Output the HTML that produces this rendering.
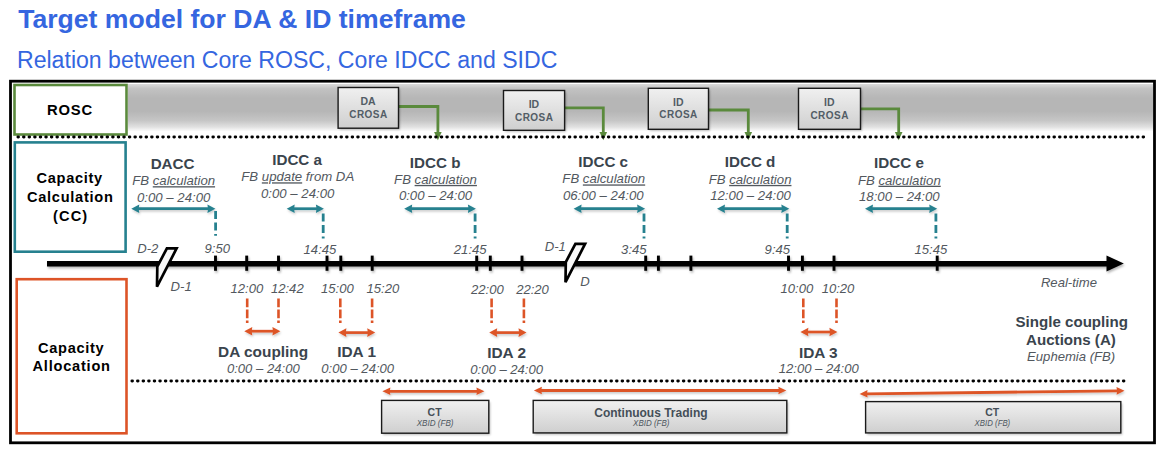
<!DOCTYPE html>
<html><head><meta charset="utf-8"><title>Target model for DA &amp; ID timeframe</title>
<style>
html,body{margin:0;padding:0;background:#fff;}
body{width:1165px;height:457px;overflow:hidden;}
svg{display:block;font-family:"Liberation Sans",sans-serif;}
</style></head>
<body>
<svg width="1165" height="457" viewBox="0 0 1165 457">
<defs>
<linearGradient id="band" x1="0" y1="0" x2="0" y2="1">
<stop offset="0" stop-color="#dadada"/><stop offset="0.1" stop-color="#c2c2c2"/><stop offset="0.3" stop-color="#b6b6b6"/><stop offset="0.58" stop-color="#b6b6b6"/>
<stop offset="0.78" stop-color="#c6c6c6"/><stop offset="0.92" stop-color="#e2e2e2"/><stop offset="1" stop-color="#fbfbfb"/>
</linearGradient>
<linearGradient id="boxg" x1="0" y1="0" x2="0" y2="1">
<stop offset="0" stop-color="#f0f0f0"/><stop offset="1" stop-color="#cfcfcf"/>
</linearGradient>
<filter id="sh" x="-5%" y="-50%" width="110%" height="200%"><feDropShadow dx="1" dy="1.8" stdDeviation="1.1" flood-color="#000" flood-opacity="0.3"/></filter>
<filter id="sh2" x="-5%" y="-100%" width="110%" height="300%"><feDropShadow dx="0.8" dy="1.6" stdDeviation="1" flood-color="#000" flood-opacity="0.22"/></filter>
<filter id="blur" x="-10%" y="-20%" width="120%" height="140%"><feGaussianBlur stdDeviation="1.2"/></filter>
</defs>
<text x="18.13" y="28.10" font-size="26.6" font-weight="700" font-style="normal" fill="#3566e0">Target model for DA &amp; ID timeframe</text>
<text x="16.97" y="67.50" font-size="23.1" font-weight="400" font-style="normal" fill="#3566e0">Relation between Core ROSC, Core IDCC and SIDC</text>
<rect x="10.5" y="81.2" width="1144" height="361.6" fill="#fff" stroke="#000" stroke-width="2.8"/>
<rect x="128" y="84" width="1025" height="47" fill="url(#band)"/>
<rect x="14.5" y="85" width="112" height="49.5" fill="#fff" stroke="#5a8a3c" stroke-width="2.6"/>
<rect x="14.8" y="142.4" width="110.8" height="109.3" fill="#fff" stroke="#26818f" stroke-width="2.6"/>
<rect x="16.7" y="279.2" width="109.8" height="154.1" fill="#fff" stroke="#dd5427" stroke-width="2.6"/>
<text x="47.04" y="114.80" font-size="14.8" font-weight="700" font-style="normal" fill="#000" letter-spacing="0.811">ROSC</text>
<text x="36.62" y="183.30" font-size="14.6" font-weight="700" font-style="normal" fill="#000" letter-spacing="0.678">Capacity</text>
<text x="26.97" y="202.20" font-size="14.6" font-weight="700" font-style="normal" fill="#000" letter-spacing="0.722">Calculation</text>
<text x="52.97" y="221.30" font-size="14.6" font-weight="700" font-style="normal" fill="#000" letter-spacing="1.151">(CC)</text>
<text x="38.12" y="352.60" font-size="14.6" font-weight="700" font-style="normal" fill="#000" letter-spacing="0.678">Capacity</text>
<text x="32.53" y="370.90" font-size="14.6" font-weight="700" font-style="normal" fill="#000" letter-spacing="0.772">Allocation</text>
<polyline points="398.5,106.5 437.9,106.5 437.9,133" fill="none" stroke="#5a8a3c" stroke-width="2.8"/>
<polygon points="434.09999999999997,132 441.7,132 437.9,140.2" fill="#5a8a3c"/>
<rect x="339.6" y="89.0" width="60.39999999999998" height="40.69999999999999" fill="#000" opacity="0.25" filter="url(#blur)"/>
<rect x="338.1" y="87.5" width="60.39999999999998" height="40.69999999999999" fill="url(#boxg)" stroke="#1a1a1a" stroke-width="1.4"/>
<text x="360.53" y="104.60" font-size="10.5" font-weight="700" font-style="normal" fill="#535d66">DA</text>
<text x="349.25" y="117.70" font-size="10.0" font-weight="700" font-style="normal" fill="#535d66" letter-spacing="0.462">CROSA</text>
<polyline points="564.6,107.9 603.3,107.9 603.3,133" fill="none" stroke="#5a8a3c" stroke-width="2.8"/>
<polygon points="599.5,132 607.0999999999999,132 603.3,140.2" fill="#5a8a3c"/>
<rect x="505.0" y="92.0" width="61.10000000000002" height="39.80000000000001" fill="#000" opacity="0.25" filter="url(#blur)"/>
<rect x="503.5" y="90.5" width="61.10000000000002" height="39.80000000000001" fill="url(#boxg)" stroke="#1a1a1a" stroke-width="1.4"/>
<text x="528.67" y="107.60" font-size="10.5" font-weight="700" font-style="normal" fill="#535d66">ID</text>
<text x="515.00" y="120.70" font-size="10.0" font-weight="700" font-style="normal" fill="#535d66" letter-spacing="0.462">CROSA</text>
<polyline points="708.5,110.0 748.3,110.0 748.3,133" fill="none" stroke="#5a8a3c" stroke-width="2.8"/>
<polygon points="744.5,132 752.0999999999999,132 748.3,140.2" fill="#5a8a3c"/>
<rect x="649.8" y="89.8" width="60.200000000000045" height="41.000000000000014" fill="#000" opacity="0.25" filter="url(#blur)"/>
<rect x="648.3" y="88.3" width="60.200000000000045" height="41.000000000000014" fill="url(#boxg)" stroke="#1a1a1a" stroke-width="1.4"/>
<text x="673.02" y="105.60" font-size="10.5" font-weight="700" font-style="normal" fill="#535d66">ID</text>
<text x="659.35" y="118.40" font-size="10.0" font-weight="700" font-style="normal" fill="#535d66" letter-spacing="0.462">CROSA</text>
<polyline points="860.5,108.9 898.7,108.9 898.7,133" fill="none" stroke="#5a8a3c" stroke-width="2.8"/>
<polygon points="894.9000000000001,132 902.5,132 898.7,140.2" fill="#5a8a3c"/>
<rect x="800.0" y="89.8" width="62.0" height="41.000000000000014" fill="#000" opacity="0.25" filter="url(#blur)"/>
<rect x="798.5" y="88.3" width="62.0" height="41.000000000000014" fill="url(#boxg)" stroke="#1a1a1a" stroke-width="1.4"/>
<text x="824.12" y="105.60" font-size="10.5" font-weight="700" font-style="normal" fill="#535d66">ID</text>
<text x="810.45" y="118.50" font-size="10.0" font-weight="700" font-style="normal" fill="#535d66" letter-spacing="0.462">CROSA</text>
<line x1="17.90" y1="137" x2="1146" y2="137" stroke="#000" stroke-width="2.9" stroke-linecap="round" stroke-dasharray="0.6 4.97"/>
<g filter="url(#sh)">
<line x1="47" y1="263.7" x2="1108" y2="263.7" stroke="#000" stroke-width="5.4"/>
<polygon points="1106.5,255.6 1123.8,263.5 1106.5,271.6" fill="#000"/>
<line x1="215.5" y1="255.6" x2="215.5" y2="270.8" stroke="#000" stroke-width="2.9"/>
<line x1="246.7" y1="255.6" x2="246.7" y2="270.8" stroke="#000" stroke-width="2.9"/>
<line x1="278.5" y1="255.6" x2="278.5" y2="270.8" stroke="#000" stroke-width="2.9"/>
<line x1="327.0" y1="255.6" x2="327.0" y2="270.8" stroke="#000" stroke-width="2.9"/>
<line x1="340.8" y1="255.6" x2="340.8" y2="270.8" stroke="#000" stroke-width="2.9"/>
<line x1="372.2" y1="255.6" x2="372.2" y2="270.8" stroke="#000" stroke-width="2.9"/>
<line x1="476.7" y1="255.6" x2="476.7" y2="270.8" stroke="#000" stroke-width="2.9"/>
<line x1="490.3" y1="255.6" x2="490.3" y2="270.8" stroke="#000" stroke-width="2.9"/>
<line x1="522.0" y1="255.6" x2="522.0" y2="270.8" stroke="#000" stroke-width="2.9"/>
<line x1="645.7" y1="255.6" x2="645.7" y2="270.8" stroke="#000" stroke-width="2.9"/>
<line x1="658.4" y1="255.6" x2="658.4" y2="270.8" stroke="#000" stroke-width="2.9"/>
<line x1="690.9" y1="255.6" x2="690.9" y2="270.8" stroke="#000" stroke-width="2.9"/>
<line x1="788.5" y1="255.6" x2="788.5" y2="270.8" stroke="#000" stroke-width="2.9"/>
<line x1="802.4" y1="255.6" x2="802.4" y2="270.8" stroke="#000" stroke-width="2.9"/>
<line x1="834.0" y1="255.6" x2="834.0" y2="270.8" stroke="#000" stroke-width="2.9"/>
<line x1="937.2" y1="255.6" x2="937.2" y2="270.8" stroke="#000" stroke-width="2.9"/>
</g>
<polygon points="166.9,248.4 176.6,248.4 157.0,286.7 157.3,266.5" fill="#f8f8f8" stroke="#000" stroke-width="2.7" stroke-linejoin="miter"/>
<polygon points="575.4,243.9 585.1,243.9 565.5,282.2 565.8,262.0" fill="#f8f8f8" stroke="#000" stroke-width="2.7" stroke-linejoin="miter"/>
<text x="150.67" y="169.20" font-size="15.2" font-weight="700" font-style="normal" fill="#3a444d">DACC</text>
<text x="132.25" y="185.20" font-size="13.2" font-style="italic" fill="#52585e">FB <tspan text-decoration="underline">calculation</tspan></text>
<text x="136.99" y="202.00" font-size="13.2" font-weight="400" font-style="italic" fill="#52585e">0:00 – 24:00</text>
<g filter="url(#sh2)">
<line x1="137.70" y1="208.70" x2="209.00" y2="208.70" stroke="#26818f" stroke-width="2.7"/>
<polygon points="131.30,208.70 139.30,213.00 138.66,208.70 139.30,204.40" fill="#26818f"/>
<polygon points="215.40,208.70 207.40,213.00 208.04,208.70 207.40,204.40" fill="#26818f"/>
</g>
<line x1="215.6" y1="211" x2="215.6" y2="235.8" stroke="#26818f" stroke-width="2.8" stroke-dasharray="8 3.5"/>
<text x="272.19" y="165.20" font-size="15.2" font-weight="700" font-style="normal" fill="#3a444d">IDCC a</text>
<text x="241.32" y="181.30" font-size="13.2" font-style="italic" fill="#52585e">FB <tspan text-decoration="underline">update</tspan> from DA</text>
<text x="261.04" y="197.70" font-size="13.2" font-weight="400" font-style="italic" fill="#52585e">0:00 – 24:00</text>
<g filter="url(#sh2)">
<line x1="293.10" y1="208.70" x2="317.50" y2="208.70" stroke="#26818f" stroke-width="2.7"/>
<polygon points="286.70,208.70 294.70,213.00 294.06,208.70 294.70,204.40" fill="#26818f"/>
<polygon points="323.90,208.70 315.90,213.00 316.54,208.70 315.90,204.40" fill="#26818f"/>
</g>
<line x1="323.2" y1="213.5" x2="323.2" y2="238.4" stroke="#26818f" stroke-width="2.8" stroke-dasharray="8 3.5"/>
<text x="409.80" y="167.90" font-size="15.2" font-weight="700" font-style="normal" fill="#3a444d">IDCC b</text>
<text x="394.10" y="183.90" font-size="13.2" font-style="italic" fill="#52585e">FB <tspan text-decoration="underline">calculation</tspan></text>
<text x="398.89" y="200.40" font-size="13.2" font-weight="400" font-style="italic" fill="#52585e">0:00 – 24:00</text>
<g filter="url(#sh2)">
<line x1="410.60" y1="208.70" x2="469.50" y2="208.70" stroke="#26818f" stroke-width="2.7"/>
<polygon points="404.20,208.70 412.20,213.00 411.56,208.70 412.20,204.40" fill="#26818f"/>
<polygon points="475.90,208.70 467.90,213.00 468.54,208.70 467.90,204.40" fill="#26818f"/>
</g>
<line x1="475.1" y1="213.5" x2="475.1" y2="238.4" stroke="#26818f" stroke-width="2.8" stroke-dasharray="8 3.5"/>
<text x="578.29" y="167.30" font-size="15.2" font-weight="700" font-style="normal" fill="#3a444d">IDCC c</text>
<text x="562.35" y="183.40" font-size="13.2" font-style="italic" fill="#52585e">FB <tspan text-decoration="underline">calculation</tspan></text>
<text x="562.93" y="200.40" font-size="13.2" font-weight="400" font-style="italic" fill="#52585e">06:00 – 24:00</text>
<g filter="url(#sh2)">
<line x1="580.00" y1="208.70" x2="638.70" y2="208.70" stroke="#26818f" stroke-width="2.7"/>
<polygon points="573.60,208.70 581.60,213.00 580.96,208.70 581.60,204.40" fill="#26818f"/>
<polygon points="645.10,208.70 637.10,213.00 637.74,208.70 637.10,204.40" fill="#26818f"/>
</g>
<line x1="644.0" y1="213.5" x2="644.0" y2="238.4" stroke="#26818f" stroke-width="2.8" stroke-dasharray="8 3.5"/>
<text x="724.74" y="167.30" font-size="15.2" font-weight="700" font-style="normal" fill="#3a444d">IDCC d</text>
<text x="708.65" y="183.90" font-size="13.2" font-style="italic" fill="#52585e">FB <tspan text-decoration="underline">calculation</tspan></text>
<text x="710.16" y="200.40" font-size="13.2" font-weight="400" font-style="italic" fill="#52585e">12:00 – 24:00</text>
<g filter="url(#sh2)">
<line x1="723.40" y1="208.70" x2="782.90" y2="208.70" stroke="#26818f" stroke-width="2.7"/>
<polygon points="717.00,208.70 725.00,213.00 724.36,208.70 725.00,204.40" fill="#26818f"/>
<polygon points="789.30,208.70 781.30,213.00 781.94,208.70 781.30,204.40" fill="#26818f"/>
</g>
<line x1="787.2" y1="213.5" x2="787.2" y2="238.4" stroke="#26818f" stroke-width="2.8" stroke-dasharray="8 3.5"/>
<text x="874.08" y="167.90" font-size="15.2" font-weight="700" font-style="normal" fill="#3a444d">IDCC e</text>
<text x="857.90" y="184.70" font-size="13.2" font-style="italic" fill="#52585e">FB <tspan text-decoration="underline">calculation</tspan></text>
<text x="859.01" y="201.20" font-size="13.2" font-weight="400" font-style="italic" fill="#52585e">18:00 – 24:00</text>
<g filter="url(#sh2)">
<line x1="871.40" y1="208.70" x2="930.80" y2="208.70" stroke="#26818f" stroke-width="2.7"/>
<polygon points="865.00,208.70 873.00,213.00 872.36,208.70 873.00,204.40" fill="#26818f"/>
<polygon points="937.20,208.70 929.20,213.00 929.84,208.70 929.20,204.40" fill="#26818f"/>
</g>
<line x1="935.9" y1="213.5" x2="935.9" y2="238.4" stroke="#26818f" stroke-width="2.8" stroke-dasharray="8 3.5"/>
<text x="204.56" y="253.00" font-size="13.1" font-weight="400" font-style="italic" fill="#52585e">9:50</text>
<text x="303.58" y="253.90" font-size="13.1" font-weight="400" font-style="italic" fill="#52585e">14:45</text>
<text x="453.82" y="253.90" font-size="13.1" font-weight="400" font-style="italic" fill="#52585e">21:45</text>
<text x="621.11" y="253.70" font-size="13.1" font-weight="400" font-style="italic" fill="#52585e">3:45</text>
<text x="764.60" y="253.70" font-size="13.1" font-weight="400" font-style="italic" fill="#52585e">9:45</text>
<text x="914.48" y="253.90" font-size="13.1" font-weight="400" font-style="italic" fill="#52585e">15:45</text>
<text x="137.21" y="253.40" font-size="13.1" font-weight="400" font-style="italic" fill="#52585e">D-2</text>
<text x="544.71" y="251.40" font-size="13.1" font-weight="400" font-style="italic" fill="#52585e">D-1</text>
<text x="170.61" y="291.00" font-size="13.1" font-weight="400" font-style="italic" fill="#52585e">D-1</text>
<text x="580.23" y="286.20" font-size="13.1" font-weight="400" font-style="italic" fill="#52585e">D</text>
<text x="1040.90" y="287.40" font-size="13.1" font-weight="400" font-style="italic" fill="#52585e">Real-time</text>
<text x="230.54" y="292.90" font-size="13.1" font-weight="400" font-style="italic" fill="#52585e">12:00</text>
<text x="270.91" y="292.90" font-size="13.1" font-weight="400" font-style="italic" fill="#52585e">12:42</text>
<text x="321.04" y="292.90" font-size="13.1" font-weight="400" font-style="italic" fill="#52585e">15:00</text>
<text x="366.54" y="292.90" font-size="13.1" font-weight="400" font-style="italic" fill="#52585e">15:20</text>
<text x="470.99" y="293.60" font-size="13.1" font-weight="400" font-style="italic" fill="#52585e">22:00</text>
<text x="516.14" y="293.60" font-size="13.1" font-weight="400" font-style="italic" fill="#52585e">22:20</text>
<text x="780.54" y="292.80" font-size="13.1" font-weight="400" font-style="italic" fill="#52585e">10:00</text>
<text x="821.64" y="292.80" font-size="13.1" font-weight="400" font-style="italic" fill="#52585e">10:20</text>
<line x1="247.2" y1="298.6" x2="247.2" y2="323" stroke="#dd5427" stroke-width="2.6" stroke-dasharray="8.7 2.2"/>
<line x1="278.5" y1="298.6" x2="278.5" y2="323" stroke="#dd5427" stroke-width="2.6" stroke-dasharray="8.7 2.2"/>
<g filter="url(#sh2)">
<line x1="250.70" y1="331.20" x2="274.00" y2="331.20" stroke="#dd5427" stroke-width="2.7"/>
<polygon points="244.30,331.20 252.30,335.50 251.66,331.20 252.30,326.90" fill="#dd5427"/>
<polygon points="280.40,331.20 272.40,335.50 273.04,331.20 272.40,326.90" fill="#dd5427"/>
</g>
<line x1="340.3" y1="298.6" x2="340.3" y2="323" stroke="#dd5427" stroke-width="2.6" stroke-dasharray="8.7 2.2"/>
<line x1="372.1" y1="298.6" x2="372.1" y2="323" stroke="#dd5427" stroke-width="2.6" stroke-dasharray="8.7 2.2"/>
<g filter="url(#sh2)">
<line x1="344.80" y1="332.60" x2="368.80" y2="332.60" stroke="#dd5427" stroke-width="2.7"/>
<polygon points="338.40,332.60 346.40,336.90 345.76,332.60 346.40,328.30" fill="#dd5427"/>
<polygon points="375.20,332.60 367.20,336.90 367.84,332.60 367.20,328.30" fill="#dd5427"/>
</g>
<line x1="491.6" y1="298.6" x2="491.6" y2="323" stroke="#dd5427" stroke-width="2.6" stroke-dasharray="8.7 2.2"/>
<line x1="523.9" y1="298.6" x2="523.9" y2="323" stroke="#dd5427" stroke-width="2.6" stroke-dasharray="8.7 2.2"/>
<g filter="url(#sh2)">
<line x1="495.60" y1="332.60" x2="520.10" y2="332.60" stroke="#dd5427" stroke-width="2.7"/>
<polygon points="489.20,332.60 497.20,336.90 496.56,332.60 497.20,328.30" fill="#dd5427"/>
<polygon points="526.50,332.60 518.50,336.90 519.14,332.60 518.50,328.30" fill="#dd5427"/>
</g>
<line x1="803.3" y1="298.6" x2="803.3" y2="323" stroke="#dd5427" stroke-width="2.6" stroke-dasharray="8.7 2.2"/>
<line x1="836.5" y1="298.6" x2="836.5" y2="323" stroke="#dd5427" stroke-width="2.6" stroke-dasharray="8.7 2.2"/>
<g filter="url(#sh2)">
<line x1="806.80" y1="332.00" x2="831.00" y2="332.00" stroke="#dd5427" stroke-width="2.7"/>
<polygon points="800.40,332.00 808.40,336.30 807.76,332.00 808.40,327.70" fill="#dd5427"/>
<polygon points="837.40,332.00 829.40,336.30 830.04,332.00 829.40,327.70" fill="#dd5427"/>
</g>
<text x="218.10" y="357.00" font-size="15.4" font-weight="700" font-style="normal" fill="#3a444d">DA coupling</text>
<text x="337.19" y="357.00" font-size="15.4" font-weight="700" font-style="normal" fill="#3a444d">IDA 1</text>
<text x="487.20" y="357.60" font-size="15.4" font-weight="700" font-style="normal" fill="#3a444d">IDA 2</text>
<text x="798.91" y="357.80" font-size="15.4" font-weight="700" font-style="normal" fill="#3a444d">IDA 3</text>
<text x="226.92" y="372.60" font-size="13.1" font-weight="400" font-style="italic" fill="#52585e">0:00 – 24:00</text>
<text x="321.32" y="372.50" font-size="13.1" font-weight="400" font-style="italic" fill="#52585e">0:00 – 24:00</text>
<text x="470.27" y="373.60" font-size="13.1" font-weight="400" font-style="italic" fill="#52585e">0:00 – 24:00</text>
<text x="778.72" y="373.40" font-size="13.1" font-weight="400" font-style="italic" fill="#52585e">12:00 – 24:00</text>
<text x="1015.55" y="327.20" font-size="15.1" font-weight="700" font-style="normal" fill="#3a444d">Single coupling</text>
<text x="1026.10" y="344.50" font-size="15.1" font-weight="700" font-style="normal" fill="#3a444d">Auctions (A)</text>
<text x="1027.10" y="360.50" font-size="13.1" font-weight="400" font-style="italic" fill="#52585e">Euphemia (FB)</text>
<line x1="131.90" y1="381" x2="1126" y2="381" stroke="#000" stroke-width="2.9" stroke-linecap="round" stroke-dasharray="0.6 4.97"/>
<g filter="url(#sh2)">
<line x1="388.80" y1="391.30" x2="478.00" y2="391.30" stroke="#dd5427" stroke-width="2.8"/>
<polygon points="382.40,391.30 390.40,395.10 389.76,391.30 390.40,387.50" fill="#dd5427"/>
<polygon points="484.40,391.30 476.40,395.10 477.04,391.30 476.40,387.50" fill="#dd5427"/>
</g>
<g filter="url(#sh2)">
<line x1="540.30" y1="390.50" x2="779.90" y2="390.50" stroke="#dd5427" stroke-width="2.8"/>
<polygon points="533.90,390.50 541.90,394.30 541.26,390.50 541.90,386.70" fill="#dd5427"/>
<polygon points="786.30,390.50 778.30,394.30 778.94,390.50 778.30,386.70" fill="#dd5427"/>
</g>
<g filter="url(#sh2)">
<line x1="866.00" y1="393.83" x2="1118.10" y2="390.87" stroke="#dd5427" stroke-width="2.8"/>
<polygon points="859.60,393.90 867.64,397.61 866.96,393.81 867.55,390.01" fill="#dd5427"/>
<polygon points="1124.50,390.80 1116.55,394.69 1117.14,390.89 1116.46,387.09" fill="#dd5427"/>
</g>
<rect x="383.1" y="402.2" width="107.19999999999999" height="32.80000000000001" fill="#000" opacity="0.25" filter="url(#blur)"/>
<rect x="381.6" y="400.4" width="107.19999999999999" height="32.80000000000001" fill="url(#boxg)" stroke="#1a1a1a" stroke-width="1.4"/>
<text x="427.56" y="415.70" font-size="10.5" font-weight="700" font-style="normal" fill="#454f58">CT</text>
<text x="416.72" y="426.00" font-size="8.8" font-weight="400" font-style="italic" fill="#4e575f" textLength="36.73" lengthAdjust="spacingAndGlyphs">XBID (FB)</text>
<rect x="534.7" y="402.2" width="253.5999999999999" height="32.5" fill="#000" opacity="0.25" filter="url(#blur)"/>
<rect x="533.2" y="400.4" width="253.5999999999999" height="32.5" fill="url(#boxg)" stroke="#1a1a1a" stroke-width="1.4"/>
<text x="594.23" y="417.30" font-size="12.0" font-weight="700" font-style="normal" fill="#454f58">Continuous Trading</text>
<text x="633.12" y="426.40" font-size="8.8" font-weight="400" font-style="italic" fill="#4e575f" textLength="36.33" lengthAdjust="spacingAndGlyphs">XBID (FB)</text>
<rect x="867.1" y="403.40000000000003" width="255.19999999999993" height="31.299999999999955" fill="#000" opacity="0.25" filter="url(#blur)"/>
<rect x="865.6" y="401.6" width="255.19999999999993" height="31.299999999999955" fill="url(#boxg)" stroke="#1a1a1a" stroke-width="1.4"/>
<text x="985.26" y="415.60" font-size="10.5" font-weight="700" font-style="normal" fill="#454f58">CT</text>
<text x="974.62" y="425.70" font-size="8.8" font-weight="400" font-style="italic" fill="#4e575f" textLength="35.62" lengthAdjust="spacingAndGlyphs">XBID (FB)</text>
</svg>
</body></html>
